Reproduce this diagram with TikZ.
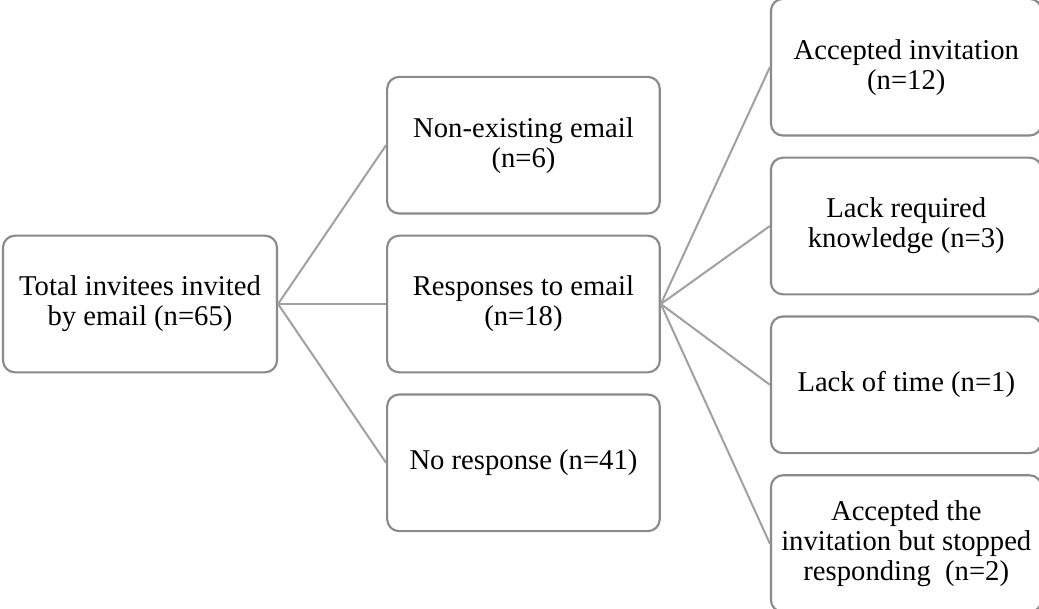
\documentclass[tikz,border=0pt]{standalone}
\usepackage{fontspec}
\setmainfont{Liberation Serif}
\usetikzlibrary{positioning}
\definecolor{edge}{HTML}{8A8A8A}
\definecolor{link}{HTML}{A0A0A0}
\begin{document}
\begin{tikzpicture}[
  node distance=15pt and 81pt,
  box/.style={draw=edge,line width=1.6pt,fill=white,rounded corners=9pt,minimum width=204.5pt,minimum height=102.5pt,align=center,inner sep=2pt,font=\fontsize{21.5}{22.5}\selectfont},
  side/.style={box,minimum width=203pt},
  conn/.style={draw=link,line width=1.5pt}]
\useasboundingbox (0,0) rectangle (779.25pt,-456pt);
\node[box,minimum width=205.5pt] (total) at (105pt,-228pt) {Total invitees invited\\by email (n=65)};
\node[box,right=81pt of total] (resp) {Responses to email\\(n=18)};
\node[box,above=of resp] (nomail) {Non-existing email\\(n=6)};
\node[box,below=of resp] (noresp) {No response (n=41)};
\node[side,right=81.75pt of resp,yshift=58.5pt] (know) {Lack required\\knowledge (n=3)};
\node[side,above=of know] (acc) {Accepted invitation\\(n=12)};
\node[side,below=of know] (time) {Lack of time (n=1)};
\node[side,below=of time] (stop) {Accepted the\\invitation but stopped\\responding~~(n=2)};
\foreach \c in {nomail,resp,noresp}
  \draw[conn] (total.east) -- (\c.west);
\foreach \c in {acc,know,time,stop}
  \draw[conn] (resp.east) -- (\c.west);
\end{tikzpicture}
\end{document}
